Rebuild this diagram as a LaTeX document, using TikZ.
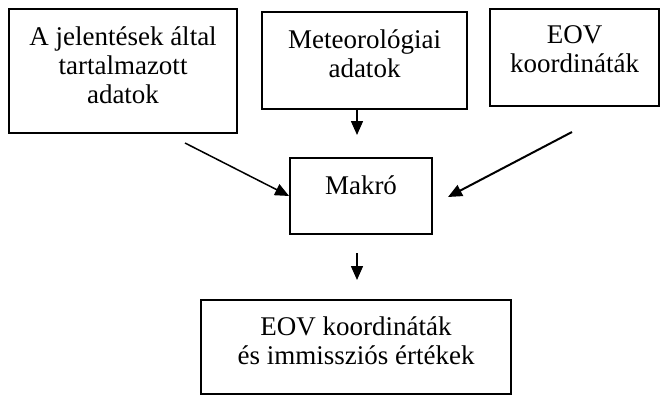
\documentclass[tikz,border=0pt]{standalone}
\usepackage{fontspec}
\setmainfont{Liberation Serif}
\usetikzlibrary{positioning, arrows.meta}

\begin{document}
\begin{tikzpicture}[x=1pt, y=-1pt, font=\fontsize{27pt}{29pt}\selectfont,
      doboz/.style={draw, line width=1.8pt, align=center, inner sep=0pt},
      nyil/.style={-{Triangle[length=14pt, width=12pt]}, line width=1.5pt}
    ]
    \useasboundingbox (0,0) rectangle (664,396);

    % ─── Bemenetek (felső sor) ───────────────────────────────────
    \node[doboz, minimum width=228pt, minimum height=124pt, text depth=11pt] (jel) at (123, 71) {A jelentések által\\ tartalmazott\\ adatok};
    \node[doboz, minimum width=205pt, minimum height=97pt, text depth=14pt]  (met) at (364.5, 60.5) {Meteorológiai\\ adatok};
    \node[doboz, minimum width=169pt, minimum height=97pt, text depth=17pt]  (eov) at (574.5, 57.5) {EOV\\ koordináták};

    % ─── Makró ───────────────────────────────────────────────────
    \node[doboz, minimum width=142pt, minimum height=76pt, text depth=22pt] (makro) at (361, 196) {Makró};

    % ─── Kimenet ─────────────────────────────────────────────────
    \node[doboz, minimum width=310pt, minimum height=94pt, text depth=13pt] (ki) at (356, 347) {EOV koordináták\\ és immissziós értékek};

    % ─── Nyilak végpontjai ───────────────────────────────────────
    \coordinate (m1) at (357, 135);
    \coordinate (b0) at (185, 143);
    \coordinate (j0) at (572, 132);
    \coordinate (j1) at (448, 197);
    \coordinate (k0) at (357, 253);
    \coordinate (k1) at (357, 280);

    % ─── Nyilak ──────────────────────────────────────────────────
    % Meteorológiai adatok -> Makró
    \draw[nyil] (met.south -| m1) -- (m1);

    % A jelentések -> Makró
    \draw[nyil] (b0) -- (makro.west);

    % EOV koordináták -> Makró
    \draw[nyil, line width=2pt] (j0) -- (j1);

    % Makró -> kimenet
    \draw[nyil] (k0) -- (k1);

\end{tikzpicture}
\end{document}
